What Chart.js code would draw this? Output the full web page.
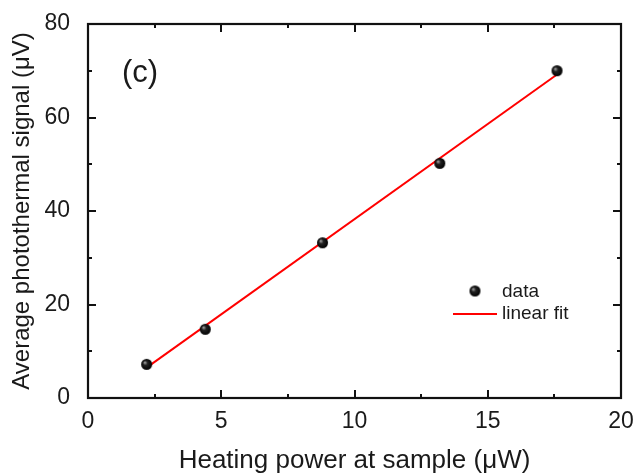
<!DOCTYPE html>
<html>
<head>
<meta charset="utf-8">
<script src="https://cdn.jsdelivr.net/npm/chart.js@4.4.1/dist/chart.umd.min.js"></script>
<style>
html,body{margin:0;padding:0;background:#fff;}
canvas{display:block;}
</style>
</head>
<body>
<canvas id="c" width="637" height="476"></canvas>
<script>
// ---- data ----
const powerX = [2.2, 4.4, 8.8, 13.2, 17.6];          // Heating power (µW)
const signalY = [7.2, 14.7, 33.2, 50.2, 70.0];      // Average photothermal signal (µV)
const fitX = [2.2, 17.6];                           // linear fit endpoints
const fitY = [6.5, 69.2];
const xTicks = [0, 5, 10, 15, 20];
const yTicks = [0, 20, 40, 60, 80];
const xMinor = [2.5, 7.5, 12.5, 17.5];
const yMinor = [10, 30, 50, 70];
const legendLabels = ['data', 'linear fit'];
const panelLabel = '(c)';
const xTitle = 'Heating power at sample (\u03BCW)';
const yTitle = 'Average photothermal signal (\u03BCV)';

const FONT = "'Liberation Sans', Arial, sans-serif";
const TEXT = '#1a1a1a';

// sphere-like marker
function makeBall(r) {
  const c = document.createElement('canvas');
  const s = r * 2 + 2;
  c.width = s; c.height = s;
  const g = c.getContext('2d');
  const grad = g.createRadialGradient(s/2 - r*0.35, s/2 - r*0.35, 0.5, s/2, s/2, r);
  grad.addColorStop(0, '#9a9a9a');
  grad.addColorStop(0.35, '#222');
  grad.addColorStop(1, '#000');
  g.fillStyle = grad;
  g.beginPath(); g.arc(s/2, s/2, r, 0, Math.PI*2); g.fill();
  return c;
}
const ball = makeBall(5.5);

const frameTicks = {
  id: 'frameTicks',
  afterDatasetsDraw(chart) {
    const ctx = chart.ctx, a = chart.chartArea;
    const xs = chart.scales.x, ys = chart.scales.y;
    ctx.save();
    ctx.strokeStyle = '#111';
    ctx.lineWidth = 2.2;
    ctx.strokeRect(a.left, a.top, a.right - a.left, a.bottom - a.top);
    ctx.lineWidth = 2;
    const tick = (vals, len) => {
      vals.forEach(v => {
        const px = Math.round(xs.getPixelForValue(v));
        ctx.beginPath();
        ctx.moveTo(px, a.bottom); ctx.lineTo(px, a.bottom - len);
        ctx.moveTo(px, a.top); ctx.lineTo(px, a.top + len);
        ctx.stroke();
      });
    };
    const tickY = (vals, len) => {
      vals.forEach(v => {
        const py = Math.round(ys.getPixelForValue(v));
        ctx.beginPath();
        ctx.moveTo(a.left, py); ctx.lineTo(a.left + len, py);
        ctx.moveTo(a.right, py); ctx.lineTo(a.right - len, py);
        ctx.stroke();
      });
    };
    tick(xTicks, 8); tick(xMinor, 4);
    tickY(yTicks, 8); tickY(yMinor, 4);

    // panel label
    ctx.fillStyle = TEXT;
    ctx.font = '31px ' + FONT;
    ctx.textBaseline = 'middle';
    ctx.textAlign = 'left';
    ctx.fillText(panelLabel, 122, 73);

    // legend
    ctx.font = '19px ' + FONT;
    ctx.drawImage(ball, 475 - ball.width/2, 291 - ball.height/2);
    ctx.fillText(legendLabels[0], 502, 292);
    ctx.strokeStyle = '#ff0000';
    ctx.lineWidth = 2;
    ctx.beginPath(); ctx.moveTo(453, 314); ctx.lineTo(497, 314); ctx.stroke();
    ctx.fillText(legendLabels[1], 502, 314);
    ctx.restore();
  }
};

new Chart(document.getElementById('c'), {
  type: 'scatter',
  data: {
    datasets: [
      {
        type: 'line',
        label: legendLabels[1],
        data: fitX.map((x, i) => ({x, y: fitY[i]})),
        borderColor: '#ff0000',
        borderWidth: 2,
        pointRadius: 0,
        fill: false,
        order: 2
      },
      {
        label: legendLabels[0],
        data: powerX.map((x, i) => ({x, y: signalY[i]})),
        pointStyle: ball,
        pointRadius: 6,
        showLine: false,
        order: 1
      }
    ]
  },
  options: {
    responsive: false,
    animation: false,
    devicePixelRatio: 1,
    layout: { padding: { left: 8, right: 16, top: 24, bottom: 0 } },
    plugins: { legend: { display: false }, tooltip: { enabled: false } },
    scales: {
      x: {
        type: 'linear', min: 0, max: 20,
        afterBuildTicks: s => { s.ticks = xTicks.map(v => ({value: v})); },
        grid: { display: false },
        border: { display: false },
        ticks: { color: TEXT, font: { family: FONT, size: 23 }, padding: 2, maxRotation: 0 },
        title: { display: true, text: xTitle, color: TEXT, font: { family: FONT, size: 26 }, padding: 0 },
        afterFit: s => { s.height = 78; }
      },
      y: {
        type: 'linear', min: 0, max: 80,
        afterBuildTicks: s => { s.ticks = yTicks.map(v => ({value: v})); },
        grid: { display: false },
        border: { display: false },
        ticks: { color: TEXT, font: { family: FONT, size: 23 }, padding: 10 },
        title: { display: true, text: yTitle, color: TEXT, font: { family: FONT, size: 24 }, padding: 0 },
        afterFit: s => { s.width = 80; }
      }
    }
  },
  plugins: [frameTicks]
});
</script>
</body>
</html>
